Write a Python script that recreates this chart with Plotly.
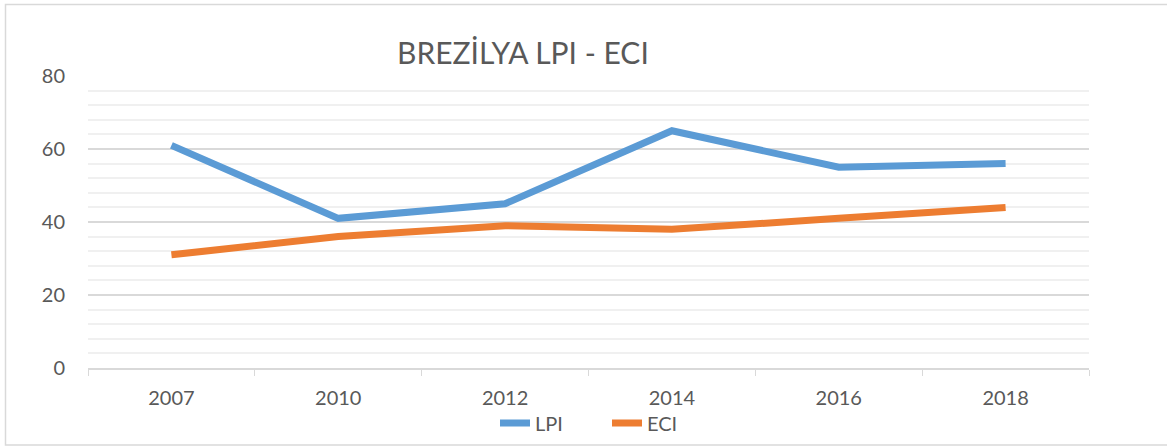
import plotly.graph_objects as go

years = ["2007", "2010", "2012", "2014", "2016", "2018"]
lpi = [61, 41, 45, 65, 55, 56]
eci = [31, 36, 39, 38, 41, 44]

W, H = 1167, 446
L, R, T, B = 88, 1089, 76, 368
pw, ph = R - L, B - T

def px_x(p):
    return (p - L) / pw

def px_y(p):
    return (B - p) / ph

font_family = "Lato, Carlito, Open Sans, sans-serif"
txt = "#595959"

fig = go.Figure()
fig.add_trace(go.Scatter(x=years, y=lpi, name="LPI", mode="lines",
                         line=dict(color="#5b9bd5", width=7)))
fig.add_trace(go.Scatter(x=years, y=eci, name="ECI", mode="lines",
                         line=dict(color="#ed7d31", width=7)))

fig.update_layout(
    width=W, height=H,
    margin=dict(l=L, r=W - R, t=T, b=H - B, pad=0, autoexpand=False),
    paper_bgcolor="white", plot_bgcolor="white",
    font=dict(family=font_family, color=txt, size=20),
    showlegend=True,
    legend=dict(orientation="h", x=px_x(607), xanchor="center", y=px_y(423), yanchor="middle",
                font=dict(size=20, color=txt), itemwidth=30, traceorder="normal",
                entrywidth=67, entrywidthmode="pixels",
                bgcolor="rgba(0,0,0,0)"),
    annotations=[dict(text="BREZİLYA LPI - ECI", x=px_x(523), y=px_y(52), xref="paper", yref="paper",
                      showarrow=False, xanchor="center", yanchor="middle",
                      font=dict(size=30, color=txt, family=font_family))],
    shapes=[dict(type="rect", xref="paper", yref="paper",
                 x0=px_x(5.5), x1=px_x(1175), y0=px_y(445), y1=px_y(4.5),
                 line=dict(color="#d9d9d9", width=1.5), fillcolor="rgba(0,0,0,0)", layer="below")],
)

fig.update_xaxes(type="category", tickson="boundaries", ticks="outside", ticklen=6,
                 tickcolor="#d9d9d9", showline=True, linecolor="#d9d9d9", linewidth=1.5,
                 showgrid=False, tickfont=dict(size=20, color=txt), ticklabelstandoff=11,
                 range=[-0.5, 5.5], fixedrange=True, automargin=False)
fig.update_yaxes(range=[0, 80], dtick=20, tick0=0, showgrid=True, gridcolor="#d9d9d9", gridwidth=1.5,
                 minor=dict(dtick=4, showgrid=True, gridcolor="#f0f0f0", gridwidth=1.5),
                 zeroline=False, showline=False, ticks="", tickfont=dict(size=20, color=txt),
                 ticklabelstandoff=22, fixedrange=True, automargin=False)

fig.write_html("out.html", config={"displayModeBar": False},
               post_script="document.body.style.margin='0px';document.body.style.padding='0px';")
